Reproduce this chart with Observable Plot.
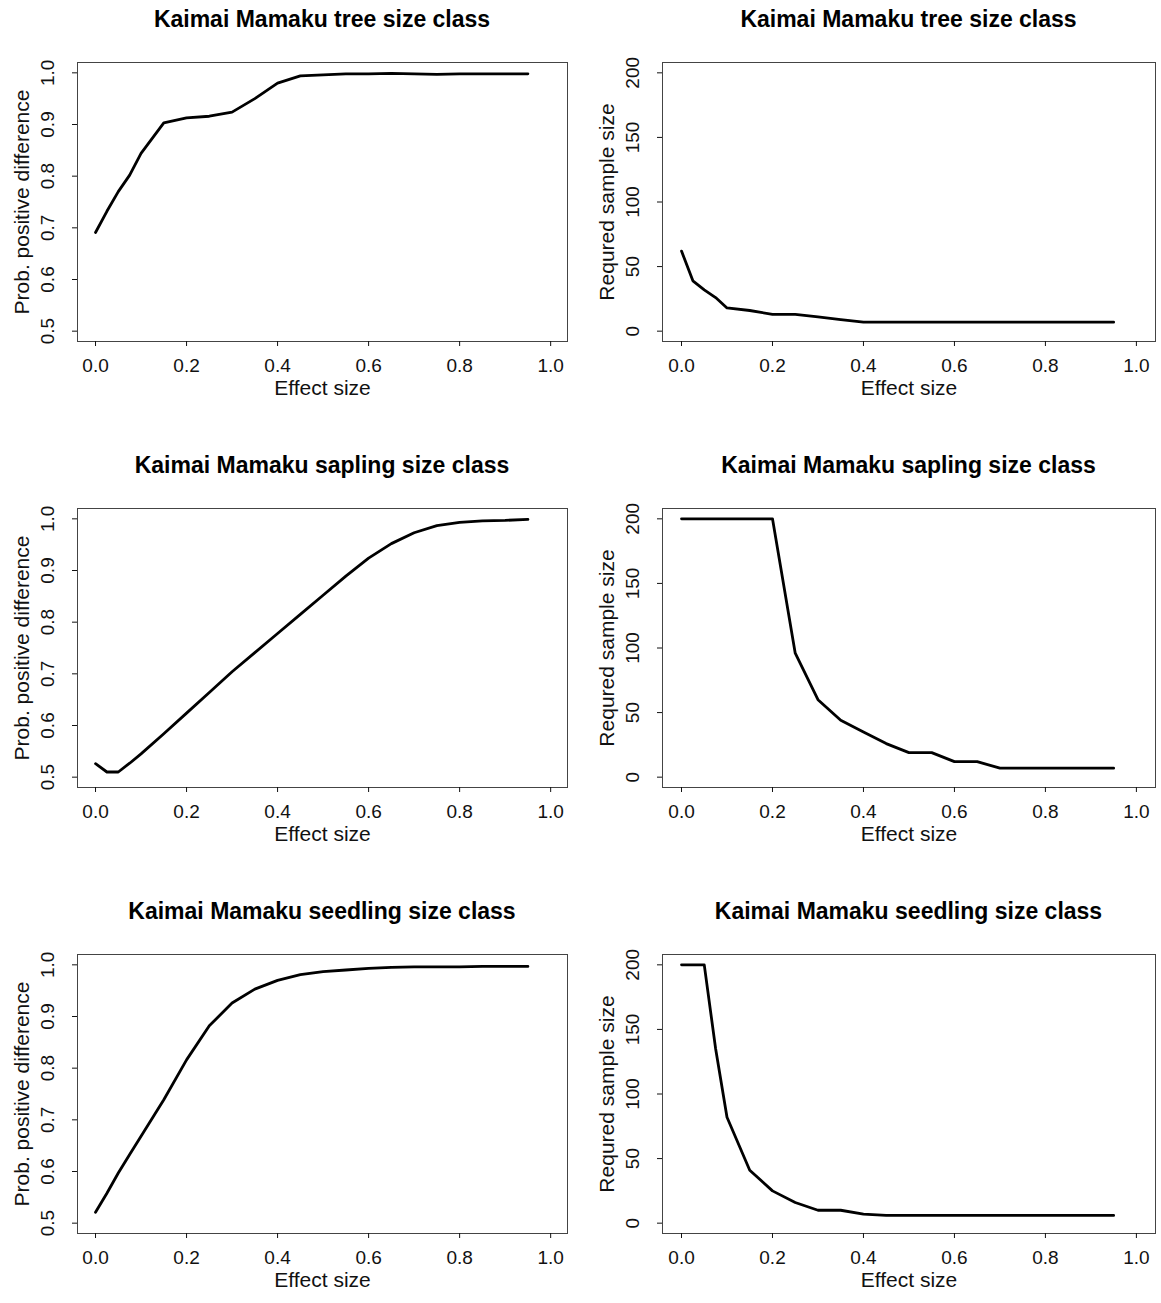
<!DOCTYPE html>
<html><head><meta charset="utf-8">
<script src="https://cdn.jsdelivr.net/npm/d3@7"></script>
<script src="https://cdn.jsdelivr.net/npm/@observablehq/plot@0.6"></script>
<style>
body{margin:0;background:#fff;font-family:"Liberation Sans",Arial,sans-serif;}
#root{position:relative;width:1161px;height:1303px;overflow:hidden;background:#fff;}
.title{position:absolute;font-weight:bold;font-size:23px;text-align:center;white-space:nowrap;line-height:1;color:#000;}
.panel{position:absolute;}
.panel svg{max-width:none !important;}
</style></head><body><div id="root"></div>
<script>
// ---- data ----
const effect = [0, 0.025, 0.05, 0.075, 0.1, 0.15, 0.2, 0.25, 0.3, 0.35, 0.4, 0.45, 0.5, 0.55, 0.6, 0.65, 0.7, 0.75, 0.8, 0.85, 0.9, 0.95];
const treeProb = [0.691, 0.732, 0.770, 0.802, 0.844, 0.903, 0.913, 0.916, 0.924, 0.950, 0.980, 0.994, 0.996, 0.998, 0.998, 0.999, 0.998, 0.997, 0.998, 0.998, 0.998, 0.998];
const treeN = [62, 39, 32, 26, 18, 16, 13, 13, 11, 9, 7, 7, 7, 7, 7, 7, 7, 7, 7, 7, 7, 7];
const saplingProb = [0.526, 0.510, 0.510, 0.527, 0.545, 0.584, 0.624, 0.664, 0.704, 0.741, 0.778, 0.815, 0.852, 0.889, 0.924, 0.952, 0.973, 0.987, 0.993, 0.996, 0.997, 0.999];
const saplingN = [200, 200, 200, 200, 200, 200, 200, 96, 60, 44, 35, 26, 19, 19, 12, 12, 7, 7, 7, 7, 7, 7];
const seedlingProb = [0.521, 0.558, 0.597, 0.633, 0.668, 0.739, 0.816, 0.882, 0.926, 0.953, 0.970, 0.981, 0.987, 0.990, 0.993, 0.995, 0.996, 0.996, 0.996, 0.997, 0.997, 0.997];
const seedlingN = [200, 200, 200, 135, 82, 41, 25, 16, 10, 10, 7, 6, 6, 6, 6, 6, 6, 6, 6, 6, 6, 6];
const xTicks = [0, 0.2, 0.4, 0.6, 0.8, 1.0];
const probTicks = [0.5, 0.6, 0.7, 0.8, 0.9, 1.0];
const nTicks = [0, 50, 100, 150, 200];
const titles = ["Kaimai Mamaku tree size class", "Kaimai Mamaku sapling size class", "Kaimai Mamaku seedling size class"];
const xLabel = "Effect size";
const probLabel = "Prob. positive difference";
const nLabel = "Requred sample size";

// ---- layout ----
const root = document.getElementById("root");
const boxH = 279, mL = 77, mR = 4, mT = 22, mB = 60;
const colX = [0, 585], rowY = [0, 446, 892];
const boxWs = [490, 493];
const xDomains = [[-0.0396, 1.037], [-0.0418, 1.042]];
const series = [[treeProb, treeN], [saplingProb, saplingN], [seedlingProb, seedlingN]];
const FONT = "'Liberation Sans', Arial, sans-serif";

for (let r = 0; r < 3; r++) {
  for (let c = 0; c < 2; c++) {
    const isProb = c === 0;
    const vals = series[r][c];
    const data = effect.map((e, i) => ({e, v: vals[i]}));
    const left = colX[c], top = rowY[r], boxW = boxWs[c];
    const W = mL + boxW + mR;

    const t = document.createElement("div");
    t.className = "title";
    t.style.left = (left + mL) + "px";
    t.style.width = boxW + "px";
    t.style.top = (top + 8) + "px";
    t.textContent = titles[r];
    root.appendChild(t);

    const chart = Plot.plot({
      width: W, height: mT + boxH + mB,
      marginLeft: mL, marginRight: mR, marginTop: mT, marginBottom: mB,
      style: {fontFamily: FONT, background: "transparent", color: "#111", overflow: "visible", maxWidth: "none"},
      x: {domain: xDomains[c]},
      y: {domain: isProb ? [0.48, 1.02] : [-8, 208]},
      marks: [
        Plot.frame({stroke: "#444", strokeWidth: 1}),
        Plot.axisX({ticks: xTicks, tickSize: 5, tickPadding: 12, tickFormat: d3.format(".1f"), fontSize: 19, label: null}),
        Plot.axisY({ticks: isProb ? probTicks : nTicks, tickSize: 5, tickPadding: 19, tickRotate: -90,
          tickFormat: isProb ? d3.format(".1f") : d3.format("d"), fontSize: 19, label: null}),
        Plot.line(data, {x: "e", y: "v", stroke: "black", strokeWidth: 2.8, strokeLinejoin: "round"}),
        Plot.text([xLabel], {frameAnchor: "bottom", dy: 47, lineAnchor: "middle", textAnchor: "middle", fontSize: 21, text: d => d, fill: "#111"}),
        Plot.text([isProb ? probLabel : nLabel], {frameAnchor: "left", dx: -55, rotate: -90, textAnchor: "middle", lineAnchor: "middle", fontSize: 21, text: d => d, fill: "#111"})
      ]
    });
    const wrap = document.createElement("div");
    wrap.className = "panel";
    wrap.style.left = left + "px";
    wrap.style.top = (top + 40) + "px";
    wrap.style.width = W + "px";
    wrap.appendChild(chart);
    root.appendChild(wrap);
  }
}
</script>
</body></html>
